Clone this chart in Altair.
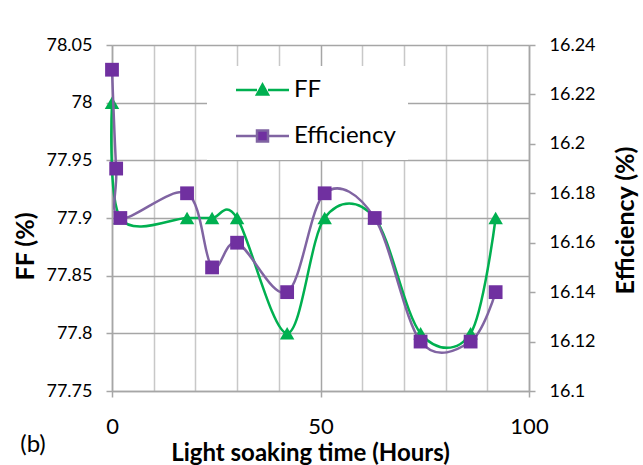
import altair as alt
import pandas as pd

# ---- data ----
hours_ff = [0, 2, 18, 24, 30, 42, 51, 63, 74, 86, 92]
ff_values = [78.0, 77.9, 77.9, 77.9, 77.9, 77.8, 77.9, 77.9, 77.8, 77.8, 77.9]

hours_eff = [0, 1, 2, 18, 24, 30, 42, 51, 63, 74, 86, 92]
eff_values = [16.23, 16.19, 16.17, 16.18, 16.15, 16.16, 16.14, 16.18, 16.17, 16.12, 16.12, 16.14]

series_names = ["FF", "Efficiency"]
hour_ticks = [0, 10, 20, 30, 40, 50, 60, 70, 80, 90, 100]
ff_ticks = [77.75, 77.8, 77.85, 77.9, 77.95, 78.0, 78.05]
eff_ticks = [16.1, 16.12, 16.14, 16.16, 16.18, 16.2, 16.22, 16.24]
panel_label = ["(b)"]

# ---- styles ----
GREEN = "#00B050"
PURPLE_LINE = "#8064A2"
PURPLE_MARK = "#7030A0"
GRID = "#a6a6a6"
GRID_MINOR = "#c8c8c8"
FONT = "Lato"

# legend symbols: line segments + marker (custom paths, 10 px per unit)
tri_path = "M-2.65,0H-0.55M0.55,0H2.65M0,-0.55L0.55,0.45L-0.55,0.45Z"
sq_path = "M-2.65,0H-0.55M0.55,0H2.65M-0.55,-0.55H0.55V0.55H-0.55Z"

ff_df = pd.DataFrame({"hours": hours_ff, "value": ff_values})
eff_df = pd.DataFrame({"hours": hours_eff, "value": eff_values})
leg_df = pd.DataFrame({"series": series_names})
lab_df = pd.DataFrame({"label": panel_label})

x_enc = alt.X(
    "hours:Q",
    scale=alt.Scale(domain=[0, 100], nice=False, zero=False),
    axis=alt.Axis(
        values=hour_ticks,
        labelExpr="datum.value % 50 === 0 ? datum.label : ''",
        grid=True,
        gridColor={"condition": {"test": "datum.value % 50 === 0", "value": GRID}, "value": GRID_MINOR},
        gridWidth=1.5,
        tickOpacity={"condition": {"test": "datum.value % 50 === 0", "value": 1}, "value": 0},
        tickSize=6,
        tickWidth=1.5,
        tickColor=GRID,
        domainColor=GRID,
        domainWidth=1.5,
        labelFont=FONT,
        labelFontSize=22,
        labelColor="black",
        labelPadding=19,
        labelFlush=False,
        title="Light soaking time (Hours)",
        titleFont=FONT,
        titleFontSize=24,
        titleFontWeight="bold",
        titleColor="black",
        titleX=198,
        titleY=69,
        titleBaseline="alphabetic",
        zindex=0,
    ),
)

y_ff = alt.Y(
    "value:Q",
    scale=alt.Scale(domain=[77.75, 78.05], nice=False, zero=False),
    axis=alt.Axis(
        orient="left",
        values=ff_ticks,
        format=".2~f",
        grid=True,
        gridColor=GRID,
        gridWidth=1.5,
        tickSize=6,
        tickWidth=1.5,
        tickColor=GRID,
        domainColor=GRID,
        domainWidth=1.5,
        labelFont=FONT,
        labelFontSize=18,
        labelColor="black",
        labelPadding=14,
        labelFlush=False,
        title="FF (%)",
        titleFont=FONT,
        titleFontSize=25,
        titleFontWeight="bold",
        titleColor="black",
        titleAngle=270,
        titleX=-87,
        titleY=201,
        titleBaseline="middle",
        titleAlign="center",
        zindex=0,
    ),
)

y_eff = alt.Y(
    "value:Q",
    scale=alt.Scale(domain=[16.1, 16.24], nice=False, zero=False),
    axis=alt.Axis(
        orient="right",
        values=eff_ticks,
        format=".2~f",
        grid=False,
        tickSize=6,
        tickWidth=1.5,
        tickColor=GRID,
        domainColor=GRID,
        domainWidth=1.5,
        labelFont=FONT,
        labelFontSize=18,
        labelColor="black",
        labelPadding=14,
        labelFlush=False,
        title="Efficiency (%)",
        titleFont=FONT,
        titleFontSize=25,
        titleFontWeight="bold",
        titleColor="black",
        titleAngle=270,
        titleX=96,
        titleY=175,
        titleBaseline="middle",
        titleAlign="center",
        zindex=0,
    ),
)

ff_line = alt.Chart(ff_df).mark_line(interpolate="cardinal", color=GREEN, strokeWidth=2.5).encode(x=x_enc, y=y_ff)
ff_pts = alt.Chart(ff_df).mark_point(shape="triangle-up", filled=True, size=210, color=GREEN, opacity=1).encode(x=x_enc, y=y_ff)

eff_line = alt.Chart(eff_df).mark_line(interpolate="cardinal", color=PURPLE_LINE, strokeWidth=2.5).encode(x=x_enc, y=y_eff)
eff_pts = alt.Chart(eff_df).mark_point(shape="square", filled=True, size=190, color=PURPLE_MARK, opacity=1).encode(x=x_enc, y=y_eff)

legend_obj = alt.Legend(
    title=None,
    orient="none",
    legendX=95,
    legendY=21,
    fillColor="white",
    padding=12,
    symbolSize=400,
    symbolStrokeWidth=2.5,
    symbolOpacity=1,
    symbolOffset=31.5,
    labelFont=FONT,
    labelFontSize=24,
    labelColor="black",
    labelOffset=19.5,
    labelExpr="datum.label + '\u2003'",
    rowPadding=22,
    zindex=1,
)

leg_layer = alt.Chart(leg_df).mark_point(filled=True, opacity=0).encode(
    x=alt.value(0),
    y=alt.value(0),
    fill=alt.Fill("series:N", scale=alt.Scale(domain=series_names, range=[GREEN, PURPLE_MARK]), legend=legend_obj),
    stroke=alt.Stroke("series:N", scale=alt.Scale(domain=series_names, range=[GREEN, PURPLE_LINE]), legend=legend_obj),
    shape=alt.Shape("series:N", scale=alt.Scale(domain=series_names, range=[tri_path, sq_path]), legend=legend_obj),
)

label_layer = alt.Chart(lab_df).mark_text(font=FONT, fontSize=24, color="black", align="center", baseline="middle").encode(
    x=alt.value(-79), y=alt.value(400), text="label:N"
)

chart = (
    alt.layer(alt.layer(ff_line, ff_pts), alt.layer(eff_line, eff_pts), leg_layer, label_layer)
    .resolve_scale(y="independent")
    .properties(
        width=417,
        height=346,
        padding={"left": 112, "top": 45, "right": 114, "bottom": 74},
        autosize=alt.AutoSizeParams(type="none"),
        background="white",
    )
    .configure_view(stroke=None)
)

chart.save("out.html", embed_options={"renderer": "svg", "actions": False})
